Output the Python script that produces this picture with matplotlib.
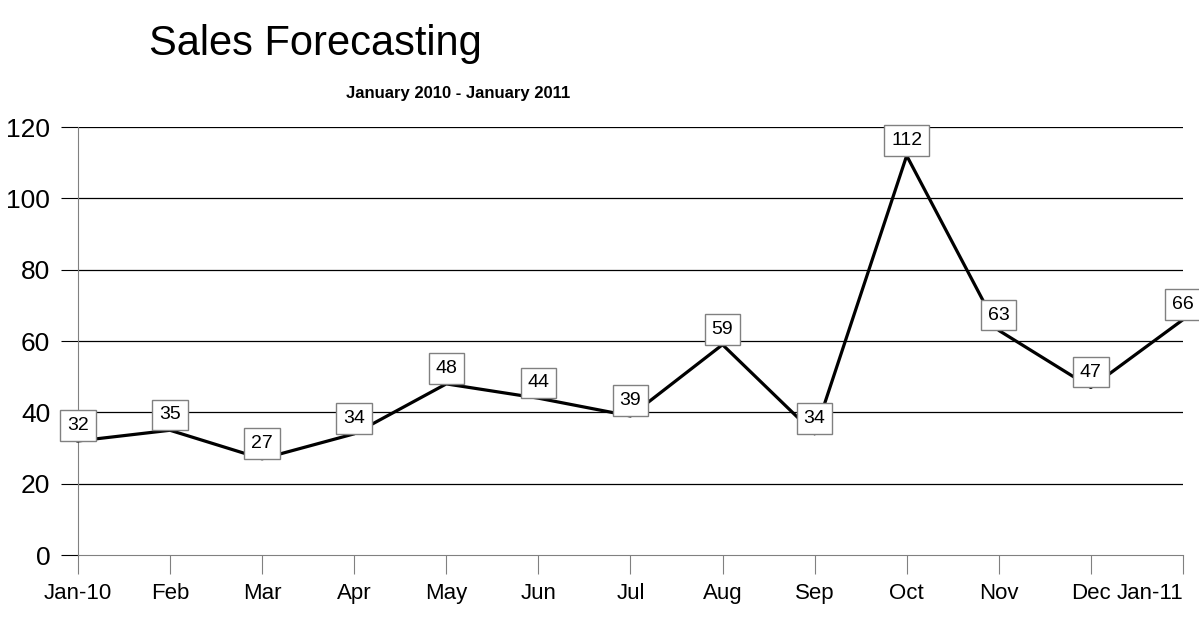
import matplotlib.pyplot as plt
import numpy as np

months = ["Jan-10", "Feb", "Mar", "Apr", "May", "Jun", "Jul",
          "Aug", "Sep", "Oct", "Nov", "Dec", "Jan-11"]
closings = [32, 35, 27, 34, 48, 44, 39, 59, 34, 112, 63, 47, 66]
y_ticks = [0, 20, 40, 60, 80, 100, 120]

plt.rcParams['font.family'] = ['Liberation Sans', 'DejaVu Sans']

fig = plt.figure(figsize=(11.99, 6.23), dpi=100)
ax = fig.add_axes((0.065, 0.109, 0.9216, 0.687))

x = np.arange(len(months))
ax.plot(x, closings, color='black', lw=2.3, zorder=3, clip_on=False)

# value boxes sit on top of each point
for xi, v in zip(x, closings):
    ax.annotate(str(v), (xi, v), xytext=(0, 11), textcoords='offset points',
                ha='center', va='center', fontsize=14, zorder=5,
                bbox=dict(boxstyle='square,pad=0.35', fc='white', ec='#808080', lw=1),
                annotation_clip=False)

ax.set_xlim(0, len(months) - 1)
ax.set_ylim(0, 120)
ax.set_yticks(y_ticks)
ax.set_xticks(x)
ax.set_xticklabels(months, fontsize=16)
ax.set_yticklabels([str(t) for t in y_ticks], fontsize=19)
# keep the last month label inside the figure
ax.get_xticklabels()[-1].set_horizontalalignment('right')

for t in y_ticks[1:]:
    ax.axhline(t, color='black', lw=0.9, zorder=1)

for s in ['top', 'right']:
    ax.spines[s].set_visible(False)
for s in ['left', 'bottom']:
    ax.spines[s].set_color('#808080')
ax.tick_params(axis='y', length=12, color='black', pad=8)
ax.tick_params(axis='x', length=14, color='#808080', pad=6)

fig.text(0.263, 0.93, "Sales Forecasting", ha='center', va='center', fontsize=30)
fig.text(0.382, 0.85, "January 2010 - January 2011", ha='center', va='center',
         fontsize=12, fontweight='bold')

fig.savefig('out.png', dpi=100)
